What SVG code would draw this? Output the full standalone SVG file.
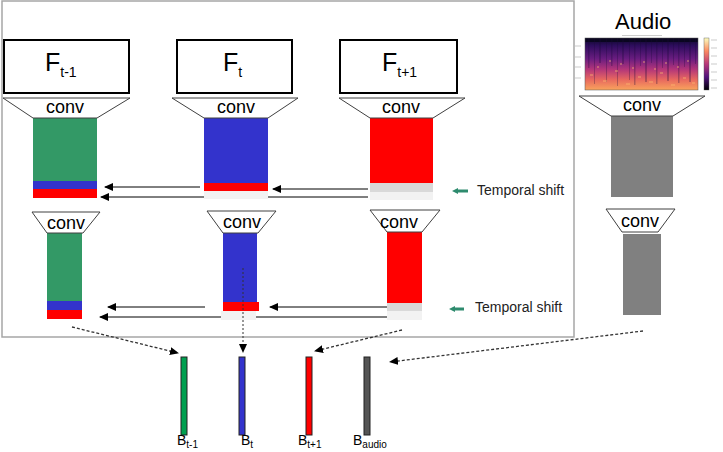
<svg xmlns="http://www.w3.org/2000/svg" width="723" height="452" viewBox="0 0 723 452">
<defs>
<style>
text{font-family:"Liberation Sans",Arial,sans-serif;fill:#000}
.box{fill:#fff;stroke:#000;stroke-width:2}
.trap{fill:#fff;stroke:#404040;stroke-width:1}
.conv{font-size:18px;text-anchor:middle}
.F{font-size:25px}
.fs{font-size:14px}
.B{font-size:14px}
.bs{font-size:10px}
.ts{font-size:14px;fill:#222}
.arr{stroke:#000;stroke-width:1;fill:none;marker-end:url(#ah)}
.dash{stroke:#333;stroke-width:1.3;stroke-dasharray:3 2;fill:none;marker-end:url(#ah)}
.dot{stroke:#333;stroke-width:1;stroke-dasharray:2 2;fill:none;marker-end:url(#ah)}
.green{fill:#339966}
.blue{fill:#3333cc}
.red{fill:#ff0000}
.lg1{fill:#d9d9d9}
.lg2{fill:#f2f2f2}
.gray{fill:#808080}
.teal{stroke:#2e8b6e;stroke-width:3;fill:none}
.bar{stroke:#222;stroke-width:1}
</style>
<marker id="ah" markerWidth="9" markerHeight="8" refX="8" refY="4" orient="auto" markerUnits="userSpaceOnUse"><path d="M0,0 L9,4 L0,8 z" fill="#000"/></marker>
<linearGradient id="spec" x1="0" y1="0" x2="0" y2="1">
<stop offset="0" stop-color="#0c0826"/>
<stop offset="0.15" stop-color="#2e0d5e"/>
<stop offset="0.4" stop-color="#6a1d80"/>
<stop offset="0.6" stop-color="#b2357a"/>
<stop offset="0.8" stop-color="#e8685f"/>
<stop offset="1" stop-color="#f9a45c"/>
</linearGradient>
<linearGradient id="cbar" x1="0" y1="0" x2="0" y2="1">
<stop offset="0" stop-color="#fcfdbf"/>
<stop offset="0.25" stop-color="#fc8961"/>
<stop offset="0.5" stop-color="#b73779"/>
<stop offset="0.75" stop-color="#51127c"/>
<stop offset="1" stop-color="#000004"/>
</linearGradient>
</defs>
<rect width="723" height="452" fill="#fff"/>

<rect id="frame" x="2" y="1" width="572" height="336" fill="none" stroke="#a6a6a6" stroke-width="1.5"/>

<g id="frame-t-1">
<rect class="box" x="4" y="40" width="125" height="53"/>
<text class="F" x="45" y="71">F<tspan class="fs" dy="6">t-1</tspan></text>
</g>
<g id="frame-t">
<rect class="box" x="177" y="40" width="115" height="53"/>
<text class="F" x="223" y="71">F<tspan class="fs" dy="6">t</tspan></text>
</g>
<g id="frame-t+1">
<rect class="box" x="340" y="40" width="117" height="53"/>
<text class="F" x="382" y="71">F<tspan class="fs" dy="6">t+1</tspan></text>
</g>

<g id="feat1-t-1">
<rect class="green" x="33" y="118" width="64" height="63"/>
<rect class="blue" x="33" y="181" width="64" height="8"/>
<rect class="red" x="33" y="189" width="64" height="9"/>
<polygon class="trap" points="3,98 130,98 97,118 33,118"/>
<text class="conv" x="65" y="113">conv</text>
</g>
<g id="feat1-t">
<rect class="blue" x="204" y="118" width="64" height="65"/>
<rect class="red" x="204" y="183" width="64" height="8"/>
<rect class="lg2" x="204" y="191" width="64" height="8"/>
<polygon class="trap" points="172,98 298,98 268,118 204,118"/>
<text class="conv" x="236" y="113">conv</text>
</g>
<g id="feat1-t+1">
<rect class="red" x="370" y="118" width="63" height="65"/>
<rect class="lg1" x="370" y="183" width="63" height="9"/>
<rect class="lg2" x="370" y="192" width="63" height="8"/>
<polygon class="trap" points="339,98 465,98 433,118 370,118"/>
<text class="conv" x="401" y="113">conv</text>
</g>

<g id="feat2-t-1">
<rect class="green" x="47" y="233" width="35" height="68"/>
<rect class="blue" x="47" y="301" width="35" height="9"/>
<rect class="red" x="47" y="310" width="35" height="9"/>
<polygon class="trap" points="32,212 100,212 83,233 47,233"/>
<text class="conv" x="66" y="229">conv</text>
</g>
<g id="feat2-t">
<rect class="blue" x="223" y="233" width="34" height="69"/>
<rect class="red" x="223" y="302" width="36" height="9"/>
<rect class="lg2" x="221" y="311" width="35" height="9"/>
<polygon class="trap" points="207,211 276,211 258,233 223,233"/>
<text class="conv" x="242" y="228">conv</text>
</g>
<g id="feat2-t+1">
<rect class="red" x="387" y="232" width="35" height="71"/>
<rect class="lg1" x="387" y="303" width="35" height="8"/>
<rect class="lg2" x="387" y="311" width="35" height="9"/>
<polygon class="trap" points="370,210 440,210 422,232 387,232"/>
<text class="conv" x="399" y="228">conv</text>
</g>

<g id="temporal-shift-1">
<line class="teal" x1="468" y1="191" x2="457" y2="191"/>
<polygon points="452,191 458,188 458,194" fill="#2e8b6e"/>
<text class="ts" x="477" y="195">Temporal shift</text>
</g>
<g id="temporal-shift-2">
<line class="teal" x1="464" y1="309" x2="454" y2="309"/>
<polygon points="449,309 455,306 455,312" fill="#2e8b6e"/>
<text class="ts" x="475" y="312">Temporal shift</text>
</g>

<g id="audio">
<text x="615" y="29" font-size="22">Audio</text>
<rect x="585" y="38" width="113" height="52" fill="url(#spec)"/>
<rect x="585" y="38" width="113" height="4" fill="#0a0620"/>
<g fill="#1a0838" opacity="0.28">
<rect x="588" y="38" width="1.5" height="30"/>
<rect x="594" y="38" width="1" height="46"/>
<rect x="599" y="38" width="2" height="25"/>
<rect x="606" y="38" width="1" height="44"/>
<rect x="611" y="38" width="1.5" height="28"/>
<rect x="617" y="38" width="1" height="48"/>
<rect x="622" y="38" width="2" height="26"/>
<rect x="629" y="38" width="1" height="42"/>
<rect x="634" y="38" width="1.5" height="47"/>
<rect x="640" y="38" width="1" height="28"/>
<rect x="645" y="38" width="2" height="44"/>
<rect x="651" y="38" width="1" height="25"/>
<rect x="656" y="38" width="1.5" height="46"/>
<rect x="662" y="38" width="1" height="30"/>
<rect x="667" y="38" width="2" height="43"/>
<rect x="673" y="38" width="1" height="27"/>
<rect x="678" y="38" width="1.5" height="45"/>
<rect x="684" y="38" width="1" height="29"/>
<rect x="689" y="38" width="2" height="44"/>
<rect x="695" y="38" width="1" height="26"/>
</g>
<g fill="#ffc070" opacity="0.35">
<rect x="590" y="74" width="3" height="2"/>
<rect x="597" y="66" width="2" height="2"/>
<rect x="603" y="80" width="4" height="2"/>
<rect x="609" y="60" width="2" height="2"/>
<rect x="615" y="70" width="3" height="2"/>
<rect x="620" y="63" width="2" height="2"/>
<rect x="626" y="83" width="4" height="2"/>
<rect x="632" y="67" width="2" height="2"/>
<rect x="638" y="76" width="3" height="2"/>
<rect x="643" y="61" width="2" height="2"/>
<rect x="649" y="81" width="4" height="2"/>
<rect x="654" y="68" width="2" height="2"/>
<rect x="660" y="72" width="3" height="2"/>
<rect x="665" y="62" width="2" height="2"/>
<rect x="671" y="84" width="4" height="2"/>
<rect x="677" y="66" width="2" height="2"/>
<rect x="683" y="77" width="3" height="2"/>
<rect x="687" y="60" width="2" height="2"/>
<rect x="692" y="82" width="3" height="2"/>
</g>
<rect x="585" y="38" width="113" height="52" fill="none" stroke="#555" stroke-width="0.5"/>
<rect x="704" y="38" width="5" height="52" fill="url(#cbar)" stroke="#555" stroke-width="0.4"/>
<rect x="622" y="35" width="40" height="1" fill="#ccc"/>
<g stroke="#aaa" stroke-width="0.6">
<line x1="575" y1="46" x2="581" y2="46"/>
<line x1="575" y1="57" x2="581" y2="57"/>
<line x1="575" y1="67" x2="581" y2="67"/>
<line x1="575" y1="78" x2="581" y2="78"/>
<line x1="711" y1="40" x2="717" y2="40"/>
<line x1="711" y1="48" x2="717" y2="48"/>
<line x1="711" y1="56" x2="717" y2="56"/>
<line x1="711" y1="64" x2="717" y2="64"/>
<line x1="711" y1="72" x2="717" y2="72"/>
<line x1="711" y1="80" x2="717" y2="80"/>
<line x1="711" y1="88" x2="717" y2="88"/>
</g>
<rect class="gray" x="611" y="116" width="62" height="81"/>
<polygon class="trap" points="579,96 705,96 673,116 611,116"/>
<text class="conv" x="642" y="111">conv</text>
</g>
<g id="audio-2">
<rect class="gray" x="623" y="234" width="38" height="81"/>
<polygon class="trap" points="606,209 675,209 658,232 622,232"/>
<text class="conv" x="640" y="227">conv</text>
</g>

<g id="B-t-1">
<rect class="bar" x="181" y="357" width="6" height="78" fill="#00a050"/>
<text class="B" x="177" y="445">B<tspan class="bs" dy="3">t-1</tspan></text>
</g>
<g id="B-t">
<rect class="bar" x="239" y="357" width="6" height="78" fill="#3333cc"/>
<text class="B" x="241" y="445">B<tspan class="bs" dy="3">t</tspan></text>
</g>
<g id="B-t+1">
<rect class="bar" x="306" y="357" width="6" height="78" fill="#ff0000"/>
<text class="B" x="298" y="445">B<tspan class="bs" dy="3">t+1</tspan></text>
</g>
<g id="B-audio">
<rect class="bar" x="364" y="357" width="6" height="78" fill="#555555"/>
<text class="B" x="353" y="445">B<tspan class="bs" dy="3">audio</tspan></text>
</g>

<g id="connectors">
<line class="arr" x1="200" y1="187" x2="105" y2="187"/>
<path class="arr" d="M368,197 H268 M204,197 H101"/>
<line class="arr" x1="368" y1="189" x2="273" y2="189"/>
<line class="arr" x1="205" y1="307" x2="108" y2="307"/>
<path class="arr" d="M387,317 H256 M221,317 H100"/>
<line class="arr" x1="387" y1="307" x2="270" y2="307"/>
<line class="dash" x1="72" y1="327" x2="178" y2="353"/>
<line class="dot" x1="243" y1="268" x2="243" y2="352"/>
<line class="dash" x1="402" y1="330" x2="315" y2="351"/>
<line class="dash" x1="643" y1="331" x2="390" y2="362"/>
</g>
</svg>
